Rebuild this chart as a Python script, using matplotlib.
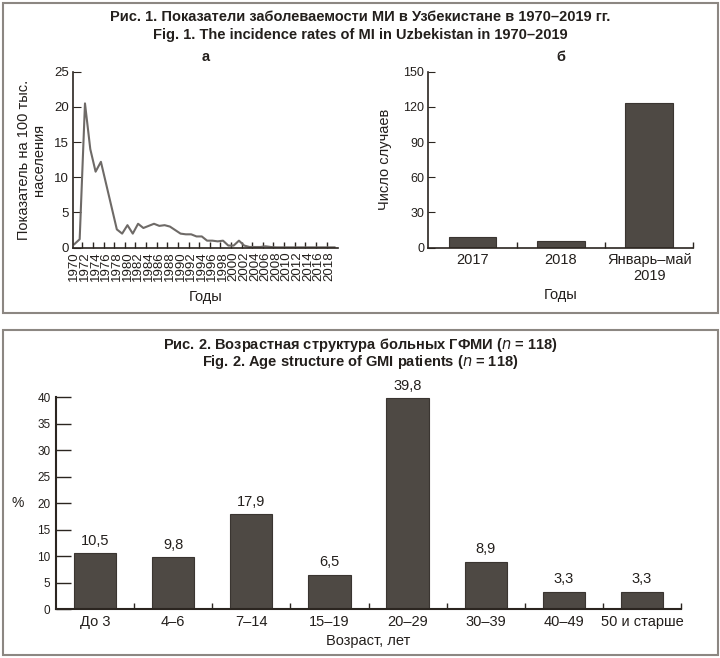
import numpy as np
import matplotlib.pyplot as plt
from matplotlib.patches import Rectangle
from matplotlib.ticker import FixedLocator

plt.rcParams['font.family'] = ['Liberation Sans', 'DejaVu Sans']

# рис. 1а - заболеваемость на 100 тыс.
years = list(range(1970, 2020))
rates = [0.5, 1.2, 20.5, 14.0, 10.8, 12.2, 9.0, 5.8, 2.6, 2.0,
         3.2, 2.0, 3.4, 2.8, 3.1, 3.4, 3.1, 3.2, 3.0, 2.5,
         2.0, 1.9, 1.9, 1.6, 1.6, 1.0, 1.0, 0.9, 1.0, 0.3,
         0.3, 1.0, 0.3, 0.1, 0.1, 0.1, 0.2, 0.1, 0.05, 0.05,
         0.05, 0.05, 0.05, 0.05, 0.05, 0.05, 0.05, 0.05, 0.05, 0.05]

# рис. 1б - число случаев
case_labels = ['2017', '2018', 'Январь–май\n2019']
cases = [9, 6, 123]

# рис. 2 - возрастная структура
age_groups = ['До 3', '4–6', '7–14', '15–19', '20–29', '30–39', '40–49', '50 и старше']
age_pct = [10.5, 9.8, 17.9, 6.5, 39.8, 8.9, 3.3, 3.3]
age_text = ['10,5', '9,8', '17,9', '6,5', '39,8', '8,9', '3,3', '3,3']

W, H = 720, 658
txt = '#231f1c'
axc = '#2b2520'
barc = '#4e4944'
linec = '#6e6a67'
framec = '#8c8782'

fig = plt.figure(figsize=(W / 100, H / 100), dpi=100)
fig.patch.set_facecolor('white')


def box(x0, y0, x1, y1):
    # пиксели (от верхнего левого угла) -> доли фигуры
    return [x0 / W, 1 - y1 / H, (x1 - x0) / W, (y1 - y0) / H]


def frame(x0, y0, x1, y1):
    fig.patches.append(Rectangle((x0 / W, 1 - y1 / H), (x1 - x0) / W, (y1 - y0) / H,
                                 transform=fig.transFigure, fill=False,
                                 edgecolor=framec, lw=1.5))


def style(ax, lw=1.2):
    for s in ['top', 'right']:
        ax.spines[s].set_visible(False)
    for s in ['left', 'bottom']:
        ax.spines[s].set_color(axc)
        ax.spines[s].set_linewidth(lw)
    ax.tick_params(colors=axc, labelcolor=txt)


frame(2.5, 2.5, 717.5, 313)
frame(2.5, 330, 717.5, 654.5)

fig.text(360 / W, 1 - 17 / H, 'Рис. 1. Показатели заболеваемости МИ в Узбекистане в 1970–2019 гг.',
         ha='center', va='center', fontsize=10.5, fontweight='bold', color=txt)
fig.text(360 / W, 1 - 35 / H, 'Fig. 1. The incidence rates of MI in Uzbekistan in 1970–2019',
         ha='center', va='center', fontsize=10.5, fontweight='bold', color=txt)

# --- а
ax1 = fig.add_axes(box(73.3, 71.7, 337.7, 247.7))
style(ax1)
ax1.plot(years, rates, color=linec, lw=1.5)
ax1.set_xlim(1969.8, 2019.6)
ax1.set_ylim(0, 25)
ax1.set_yticks([0, 5, 10, 15, 20, 25])
ax1.set_xticks(list(range(1970, 2019, 2)))
ax1.xaxis.set_minor_locator(FixedLocator([y + 1.5 for y in range(1970, 2018, 2)]))
ax1.tick_params(axis='x', which='major', length=0, labelrotation=90, labelsize=9.5, pad=3)
ax1.tick_params(axis='x', which='minor', length=4, direction='in', width=1, color=axc)
ax1.tick_params(axis='y', length=6, direction='in', labelsize=9.5, pad=3)
ax1.set_ylabel('Показатель на 100 тыс.\nнаселения', fontsize=10.5, color=txt,
               labelpad=6, linespacing=1.1)
ax1.set_xlabel('Годы', fontsize=10.5, color=txt, labelpad=6)
ax1.set_title('а', fontsize=10.5, fontweight='bold', color=txt, pad=8)

# --- б
ax2 = fig.add_axes(box(428.3, 71.7, 693.3, 247.7))
style(ax2)
xb = np.arange(len(cases))
ax2.bar(xb, cases, width=0.54, color=barc, edgecolor='#3a3531', lw=0.8)
ax2.set_xlim(-0.5, 2.5)
ax2.set_ylim(0, 150)
ax2.set_yticks([0, 30, 60, 90, 120, 150])
ax2.set_xticks(xb)
ax2.set_xticklabels(case_labels, linespacing=1.15)
ax2.xaxis.set_minor_locator(FixedLocator([0.5, 1.5, 2.5]))
ax2.tick_params(axis='x', which='major', length=0, labelsize=10.5, pad=4)
ax2.tick_params(axis='x', which='minor', length=4, direction='in', width=1, color=axc)
ax2.tick_params(axis='y', length=5, direction='in', labelsize=9, pad=3)
ax2.set_ylabel('Число случаев', fontsize=10.5, color=txt, labelpad=8)
ax2.set_xlabel('Годы', fontsize=10.5, color=txt, labelpad=4)
ax2.set_title('б', fontsize=10.5, fontweight='bold', color=txt, pad=8)

# --- рис. 2
fig.text(360 / W, 1 - 345 / H, 'Рис. 2. Возрастная структура больных ГФМИ ($\\it{n}$ = 118)',
         ha='center', va='center', fontsize=10.5, fontweight='bold', color=txt)
fig.text(360 / W, 1 - 362 / H, 'Fig. 2. Age structure of GMI patients ($\\it{n}$ = 118)',
         ha='center', va='center', fontsize=10.5, fontweight='bold', color=txt)

ax3 = fig.add_axes(box(56, 397.3, 681, 609))
style(ax3, lw=1.5)
xa = np.arange(len(age_pct))
bars = ax3.bar(xa, age_pct, width=0.54, color=barc, edgecolor='#3a3531', lw=0.8)
for b, s in zip(bars, age_text):
    ax3.annotate(s, (b.get_x() + b.get_width() / 2, b.get_height()), xytext=(0, 4),
                 textcoords='offset points', ha='center', va='bottom', fontsize=10.5, color=txt)
ax3.set_xlim(-0.5, 7.5)
ax3.set_ylim(0, 40)
ax3.set_yticks(range(0, 41, 5))
ax3.set_xticks(xa)
ax3.set_xticklabels(age_groups)
ax3.xaxis.set_minor_locator(FixedLocator([i + 0.5 for i in range(8)]))
ax3.tick_params(axis='x', which='major', length=0, labelsize=10.5, pad=4)
ax3.tick_params(axis='x', which='minor', length=4, direction='in', width=1, color=axc)
ax3.tick_params(axis='y', length=11, direction='in', width=1, labelsize=8.5, pad=4)
ax3.set_ylabel('%', fontsize=10, color=txt, rotation=0, labelpad=14, va='center')
ax3.set_xlabel('Возраст, лет', fontsize=10.5, color=txt, labelpad=4)

fig.savefig('out.png', dpi=100)
